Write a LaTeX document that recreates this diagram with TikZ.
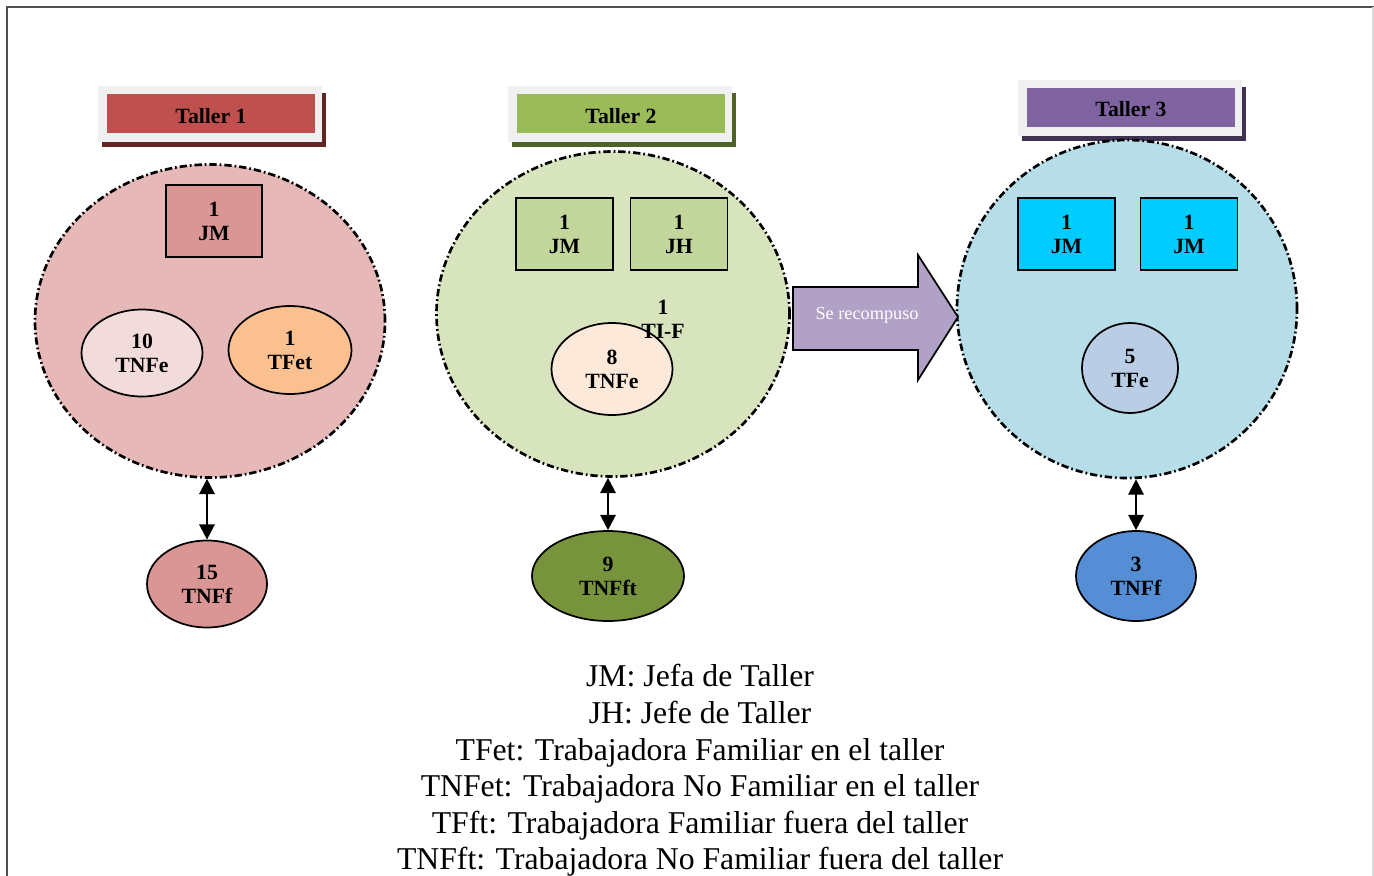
\documentclass[tikz,border=0pt]{standalone}
\usepackage{fontspec}
\setmainfont{Liberation Serif}
\usetikzlibrary{arrows.meta,shapes.geometric}
\definecolor{redT}{HTML}{C0504D}\definecolor{redS}{HTML}{632523}
\definecolor{greenT}{HTML}{9BBB59}\definecolor{greenS}{HTML}{4F6228}
\definecolor{purpT}{HTML}{8064A2}\definecolor{purpS}{HTML}{3F3151}
\definecolor{titleBg}{HTML}{F0F0F0}
\definecolor{cA}{HTML}{E6B9B8}\definecolor{cB}{HTML}{D7E4BD}\definecolor{cC}{HTML}{B7DEE8}
\definecolor{boxA}{HTML}{D99694}\definecolor{ellA1}{HTML}{F2DCDB}\definecolor{ellA2}{HTML}{FAC090}
\definecolor{boxB}{HTML}{C3D69B}\definecolor{ellB}{HTML}{FDE9D9}
\definecolor{boxC}{HTML}{00CCFF}\definecolor{ellC}{HTML}{B9CDE5}
\definecolor{botA}{HTML}{D99694}\definecolor{botB}{HTML}{77933C}\definecolor{botC}{HTML}{558ED5}
\definecolor{arrowFill}{HTML}{B2A1C7}
\definecolor{frameCol}{HTML}{505050}
\begin{document}
\begin{tikzpicture}[x=0.75pt,y=-0.75pt,
  lbl/.style={font=\bfseries\fontsize{16.3}{18}\selectfont, align=center},
  bigcirc/.style={ellipse, draw=black, line width=2pt, dash pattern=on 5.5pt off 2.2pt on 1.3pt off 2.2pt, inner sep=0pt},
  smallbox/.style={rectangle, draw=black, line width=1.3pt, minimum width=72.75pt, minimum height=54pt, inner sep=0pt, lbl},
  smallell/.style={ellipse, draw=black, line width=1.3pt, inner sep=0pt, lbl},
  dblarrow/.style={line width=1.8pt, {Triangle[length=11.5pt,width=11.5pt]}-{Triangle[length=11.5pt,width=11.5pt]}},
  legend/.style={font=\fontsize{23.8}{28}\selectfont, anchor=base}
]
\useasboundingbox (0,0) rectangle (1374,875);
\fill[white] (0,0) rectangle (1374,875);
% frame
\draw[frameCol, line width=0.9pt] (7,880) -- (7,7) -- (1374,7);
\draw[black!15, line width=0.9pt] (1373,7) -- (1373,880);

% titles
\fill[redS] (102,93) rectangle (326,147);
\fill[titleBg] (98,86) rectangle (322,142);
\fill[redT] (107,94) rectangle (315,133);
\node[lbl] (t1) at (211,116) {Taller 1};

\fill[greenS] (512,93) rectangle (736,147);
\fill[titleBg] (508,86) rectangle (732,142);
\fill[greenT] (517,94) rectangle (725,133);
\node[lbl] (t2) at (621,116) {Taller 2};

\fill[purpS] (1022,87) rectangle (1246,141);
\fill[titleBg] (1018,80) rectangle (1242,136);
\fill[purpT] (1027,88) rectangle (1235,127);
\node[lbl] (t3) at (1131,109) {Taller 3};

% big circles
\node[bigcirc, fill=cA, minimum width=262.5pt, minimum height=234.75pt] (c1) at (210,321) {};
\node[bigcirc, fill=cB, minimum width=264.75pt, minimum height=243.75pt] (c2) at (613,314) {};
\node[bigcirc, fill=cC, minimum width=255pt, minimum height=253.5pt] (c3) at (1127,309) {};

% inside circle 1
\node[smallbox, fill=boxA, minimum width=72pt] (jm1) at (214,221) {1\\JM};
\node[smallell, fill=ellA1, minimum width=90.75pt, minimum height=65.25pt] (tnfe1) at (142,353) {10\\TNFe};
\node[smallell, fill=ellA2, minimum width=92.25pt, minimum height=66pt] (tfet1) at (290,350) {1\\TFet};

% inside circle 2
\node[smallbox, fill=boxB] (jm2) at (564.5,234) {1\\JM};
\node[smallbox, fill=boxB] (jh2) at (679,234) {1\\JH};
\node[smallell, fill=ellB, minimum width=90.75pt, minimum height=69pt] (tnfe2) at (612,369) {8\\TNFe};
\node[lbl] (tif2) at (663,319) {1\\TI-F};

% inside circle 3
\node[smallbox, fill=boxC] (jm3a) at (1066.5,234) {1\\JM};
\node[smallbox, fill=boxC] (jm3b) at (1189,234) {1\\JM};
\node[smallell, fill=ellC, minimum width=72pt, minimum height=67.5pt] (tfe3) at (1130,368) {5\\TFe};

% big arrow
\draw[fill=arrowFill, line width=1.3pt] (793,287) -- (918,287) -- (918,255) -- (958,317) -- (918,380) -- (918,350) -- (793,350) -- cycle;
\node[font=\fontsize{13.7}{16}\selectfont, text=white] (rec) at (867,315) {Se recompuso};

% bottom ellipses
\node[smallell, fill=botA, minimum width=90pt, minimum height=65.25pt] (b1) at (207,584) {15\\TNFf};
\node[smallell, fill=botB, minimum width=114pt, minimum height=67.5pt] (b2) at (608,576) {9\\TNFft};
\node[smallell, fill=botC, minimum width=90pt, minimum height=67.5pt] (b3) at (1136,576) {3\\TNFf};

% double arrows
\draw[dblarrow] (b1.north |- c1.south) -- (b1.north);
\draw[dblarrow] (b2.north |- c2.south) -- (b2.north);
\draw[dblarrow] (b3.north |- c3.south) -- (b3.north);

% legend
\node[legend] (l1) at (700,686) {JM: Jefa de Taller};
\node[legend] (l2) at (700,723) {JH: Jefe de Taller};
\node[legend] (l3) at (700,760) {TFet: Trabajadora Familiar en el taller};
\node[legend] (l4) at (700,796) {TNFet: Trabajadora No Familiar en el taller};
\node[legend] (l5) at (700,833) {TFft: Trabajadora Familiar fuera del taller};
\node[legend] (l6) at (700,869) {TNFft: Trabajadora No Familiar fuera del taller};
\end{tikzpicture}
\end{document}
